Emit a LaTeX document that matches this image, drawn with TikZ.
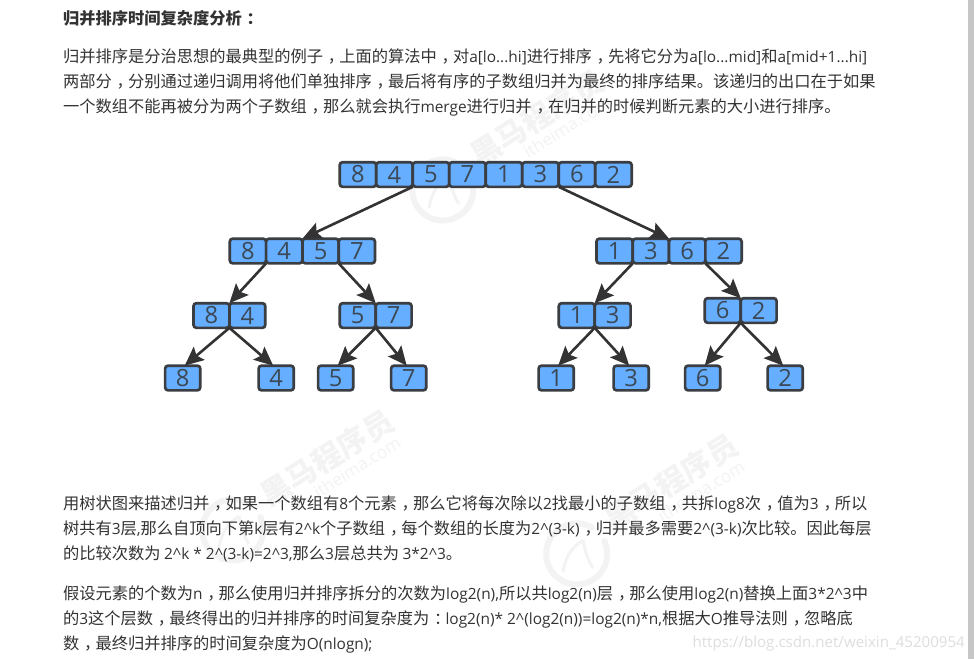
\documentclass[tikz,border=0pt]{standalone}
\usepackage{fontspec}
\usetikzlibrary{arrows.meta}
\setmainfont{Open Sans}
\newfontfamily\cjkf{Noto Sans CJK SC}
\newfontfamily\latf[Scale=0.949]{Open Sans}
\newfontfamily\urlf{Liberation Sans}
\newXeTeXintercharclass\cjkclass
\newXeTeXintercharclass\puncclass
\newcount\cc
\cc="4E00 \loop\ifnum\cc<"A000 \XeTeXcharclass\cc=\cjkclass \advance\cc by 1 \repeat
\cc="3000 \loop\ifnum\cc<"3040 \XeTeXcharclass\cc=\cjkclass \advance\cc by 1 \repeat
\cc="FF00 \loop\ifnum\cc<"FFF0 \XeTeXcharclass\cc=\cjkclass \advance\cc by 1 \repeat
\XeTeXcharclass"FF0C=\puncclass
\XeTeXcharclass"FF1A=\puncclass
\XeTeXinterchartoks 0 \cjkclass = {\cjkf}
\XeTeXinterchartoks 4095 \cjkclass = {\cjkf}
\XeTeXinterchartoks \cjkclass 0 = {\latf}
\XeTeXinterchartoks 4095 0 = {\latf}
% full-width comma and colon stand in the middle of their cell
\XeTeXinterchartoks 0 \puncclass = {\cjkf\kern0.3em}
\XeTeXinterchartoks \cjkclass \puncclass = {\kern0.3em}
\XeTeXinterchartoks \puncclass \cjkclass = {\kern-0.3em}
\XeTeXinterchartoks \puncclass 0 = {\kern-0.3em\latf}
\XeTeXinterchartokenstate=1
\definecolor{txt}{HTML}{333333}
\definecolor{cellfill}{HTML}{66AEFF}
\definecolor{celledge}{HTML}{3A3D42}
\definecolor{digit}{HTML}{3B4856}
\definecolor{arrowc}{HTML}{333333}
\definecolor{wm}{HTML}{F3F3F3}
\definecolor{urlc}{HTML}{DEDEDE}
\tikzset{
  para/.style={anchor=base west,inner sep=0pt,outer sep=0pt,text=txt,font=\fontsize{16.25}{16.25}\selectfont},
  cellbox/.style={draw=celledge,fill=cellfill,line width=2.7pt,rounded corners=3pt,inner sep=0pt,outer sep=0pt,
    minimum height=24.7pt,minimum width=#1,text=digit,font=\fontsize{25}{25}\selectfont},
  link/.style={draw=arrowc,line width=2.6pt,-{Stealth[length=19pt,width=17pt,inset=3.5pt]}},
  wmtext/.style={text=wm,inner sep=0pt,font=\fontsize{30}{30}\selectfont\bfseries,rotate=32},
  wmsite/.style={text=wm,inner sep=0pt,font=\fontsize{18}{18}\selectfont,rotate=32},
  wmring/.style={draw=wm,line width=6pt,line cap=round},
}
\newcommand{\wmark}[3]{%
  \begin{scope}[shift={(#1,#2)}]
    \coordinate (rs#3) at (15,-26.5);
    \draw[wmring] (rs#3) arc[start angle=60,end angle=385,radius=30.5pt];
    \draw[draw=wm,line width=3pt] (-14,18) .. controls (-10,-6) and (2,-10) .. (6,-14);
    \draw[draw=wm,line width=3pt] (6,-14) .. controls (8,-2) and (12,8) .. (16,14);
    \node[wmtext] (wt#3) at (94,-72) {黑马程序员};
    \node[wmsite] (ws#3) at (124,-63) {itheima.com};
  \end{scope}}
\begin{document}
\begin{tikzpicture}[x=1pt,y=-1pt]
\useasboundingbox (0,0) rectangle (974,659);
\fill[white] (0,0) rectangle (974,659);
\wmark{443}{190}{a}
\wmark{233}{530}{b}
\wmark{577}{554}{c}
\fill[gray!45] (968,0) rectangle (974,659);
% text
\node[para,font=\fontsize{16.25}{16.25}\selectfont\bfseries] (title) at (63,24) {归并排序时间复杂度分析：};
\node[para] (p1) at (63,62) {归并排序是分治思想的最典型的例子，上面的算法中，对a[lo...hi]进行排序，先将它分为a[lo...mid]和a[mid+1...hi]};
\node[para] (p2) at (63,87) {两部分，分别通过递归调用将他们单独排序，最后将有序的子数组归并为最终的排序结果。该递归的出口在于如果};
\node[para] (p3) at (63,112) {一个数组不能再被分为两个子数组，那么就会执行merge进行归并，在归并的时候判断元素的大小进行排序。};
\node[para] (p4) at (63,509) {用树状图来描述归并，如果一个数组有8个元素，那么它将每次除以2找最小的子数组，共拆log8次，值为3，所以};
\node[para] (p5) at (63,534) {树共有3层,那么自顶向下第k层有2\textasciicircum k个子数组，每个数组的长度为2\textasciicircum(3-k)，归并最多需要2\textasciicircum(3-k)次比较。因此每层};
\node[para] (p6) at (63,559) {的比较次数为 2\textasciicircum k * 2\textasciicircum(3-k)=2\textasciicircum 3,那么3层总共为 3*2\textasciicircum 3。};
\node[para] (p7) at (63,599) {假设元素的个数为n，那么使用归并排序拆分的次数为log2(n),所以共log2(n)层，那么使用log2(n)替换上面3*2\textasciicircum 3中};
\node[para] (p8) at (63,624) {的3这个层数，最终得出的归并排序的时间复杂度为：log2(n)* 2\textasciicircum(log2(n))=log2(n)*n,根据大O推导法则，忽略底};
\node[para] (p9) at (63,649) {数，最终归并排序的时间复杂度为O(nlogn);};
\node[anchor=base east,inner sep=0pt,text=urlc,font=\urlf\fontsize{15.9}{15.9}\selectfont] (url) at (965,647) {https://blog.csdn.net/weixin\_45200954};
% row 1
\node[cellbox=36.5pt] (a1) at (357.95,174.5) {8};
\node[cellbox=36.5pt] (a2) at (394.45,174.5) {4};
\node[cellbox=36.5pt] (a3) at (430.95,174.5) {5};
\node[cellbox=36.5pt] (a4) at (467.45,174.5) {7};
\node[cellbox=36.5pt] (a5) at (503.95,174.5) {1};
\node[cellbox=36.5pt] (a6) at (540.45,174.5) {3};
\node[cellbox=36.5pt] (a7) at (576.95,174.5) {6};
\node[cellbox=36.5pt] (a8) at (613.45,174.5) {2};
% row 2
\node[cellbox=36.3pt] (b1) at (247.95,251) {8};
\node[cellbox=36.3pt] (b2) at (284.25,251) {4};
\node[cellbox=36.3pt] (b3) at (320.55,251) {5};
\node[cellbox=36.3pt] (b4) at (356.85,251) {7};
\node[cellbox=36.3pt] (b5) at (614.6,251) {1};
\node[cellbox=36.3pt] (b6) at (650.9,251) {3};
\node[cellbox=36.3pt] (b7) at (687.2,251) {6};
\node[cellbox=36.3pt] (b8) at (723.5,251) {2};
% row 3
\node[cellbox=35.9pt] (c1) at (211.45,315.5) {8};
\node[cellbox=35.9pt] (c2) at (247.35,315.5) {4};
\node[cellbox=35.9pt] (c3) at (357.75,315.5) {5};
\node[cellbox=35.9pt] (c4) at (393.65,315.5) {7};
\node[cellbox=35.9pt] (c5) at (576.75,315.5) {1};
\node[cellbox=35.9pt] (c6) at (612.65,315.5) {3};
\node[cellbox=35.9pt] (c7) at (722.75,310.5) {6};
\node[cellbox=35.9pt] (c8) at (758.65,310.5) {2};
% row 4
\node[cellbox=35.2pt] (d1) at (182.7,378) {8};
\node[cellbox=35.2pt] (d2) at (276.2,378) {4};
\node[cellbox=35.2pt] (d3) at (335.7,378) {5};
\node[cellbox=35.2pt] (d4) at (408.7,378) {7};
\node[cellbox=35.2pt] (d5) at (556.2,378) {1};
\node[cellbox=35.2pt] (d6) at (631.2,378) {3};
\node[cellbox=35.2pt] (d7) at (702.7,378) {6};
\node[cellbox=35.2pt] (d8) at (785.2,378) {2};
% connectors
\draw[link] (a2.south east) -- (b2.north east);
\draw[link] (a6.south east) -- (b6.north east);
\draw[link] (b1.south east) -- (c1.north east);
\draw[link] (b3.south east) -- (c3.north east);
\draw[link] (b5.south east) -- (c5.north east);
\draw[link] (b7.south east) -- (c7.north east);
\draw[link] (c1.south east) -- ([xshift=2pt]d1.north);
\draw[link] (c1.south east) -- ([xshift=-3pt]d2.north);
\draw[link] (c3.south east) -- ([xshift=2pt]d3.north);
\draw[link] (c3.south east) -- ([xshift=-2pt]d4.north);
\draw[link] (c5.south east) -- ([xshift=2pt]d5.north);
\draw[link] (c5.south east) -- ([xshift=-2pt]d6.north);
\draw[link] (c7.south east) -- ([xshift=2pt]d7.north);
\draw[link] (c7.south east) -- ([xshift=-2pt]d8.north);
\end{tikzpicture}
\end{document}
